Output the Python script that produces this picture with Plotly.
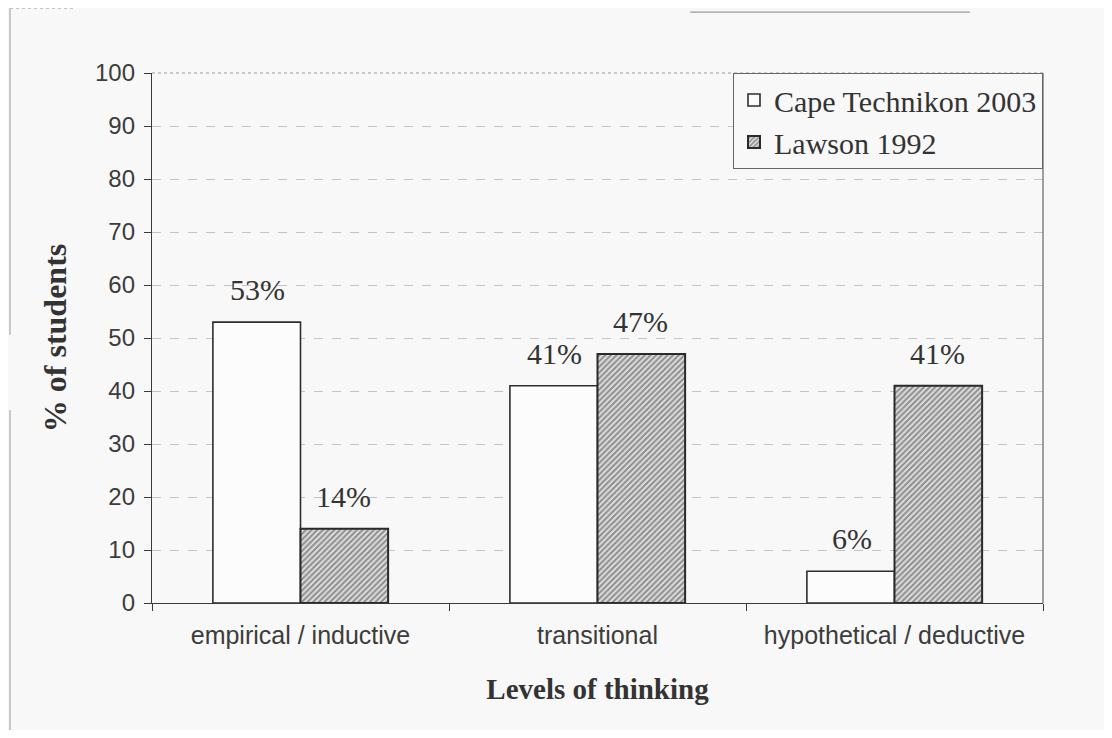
import plotly.graph_objects as go

categories = ["empirical / inductive", "transitional", "hypothetical / deductive"]
cape_2003 = [53, 41, 6]
lawson_1992 = [14, 47, 41]
y_ticks = [0, 10, 20, 30, 40, 50, 60, 70, 80, 90, 100]

bg = "#f8f8f8"
serif = "Liberation Serif"
sans = "Liberation Sans"

fig = go.Figure()
fig.add_trace(go.Bar(
    x=categories, y=cape_2003, name="Cape Technikon 2003",
    marker=dict(color="#fcfcfc", line=dict(color="#2e2e2e", width=1.6)),
))
fig.add_trace(go.Bar(
    x=categories, y=lawson_1992, name="Lawson 1992",
    marker=dict(color="#d0d0d0", line=dict(color="#2a2a2a", width=2),
                pattern=dict(shape="/", fgcolor="#3c3c3c", bgcolor="#dedede",
                             size=4, solidity=0.5)),
))

for cat, v in zip(categories, cape_2003):
    fig.add_annotation(x=cat, y=v, xref="x", yref="y", text=f"{v}%", showarrow=False,
                       xshift=-43, yshift=14, yanchor="bottom",
                       font=dict(family=serif, size=30, color="#333333"))
for cat, v in zip(categories, lawson_1992):
    fig.add_annotation(x=cat, y=v, xref="x", yref="y", text=f"{v}%", showarrow=False,
                       xshift=43, yshift=14, yanchor="bottom",
                       font=dict(family=serif, size=30, color="#333333"))

# plot-area frame: dotted top, solid right
fig.add_shape(type="line", xref="paper", yref="paper", x0=0, x1=1, y0=1, y1=1,
              line=dict(color="#9a9a9a", width=1, dash="dot"))
fig.add_shape(type="line", xref="paper", yref="paper", x0=1, x1=1, y0=0, y1=1,
              line=dict(color="#666666", width=1.2))
# faint outer frame fragments of the scanned page
frame = dict(color="#a8a8a8", width=1.2)
fig.add_shape(type="line", xref="paper", yref="paper", x0=-0.1594, x1=-0.1594, y0=0.506, y1=1.122, line=frame)
fig.add_shape(type="line", xref="paper", yref="paper", x0=-0.1594, x1=-0.1594, y0=-0.255, y1=0.364, line=frame)
fig.add_shape(type="line", xref="paper", yref="paper", x0=-0.1594, x1=-0.0887, y0=1.122, y1=1.122,
              line=dict(color="#b8b8b8", width=1, dash="dot"))
fig.add_shape(type="line", xref="paper", yref="paper", x0=0.604, x1=0.918, y0=1.115, y1=1.115,
              line=dict(color="#999999", width=1.2))

fig.update_layout(
    width=1096, height=722,
    paper_bgcolor=bg, plot_bgcolor=bg,
    margin=dict(l=144, r=61, t=65, b=127),
    barmode="group", bargap=0.41, bargroupgap=0,
    showlegend=True,
    legend=dict(x=1, y=1, xanchor="right", yanchor="top",
                bgcolor=bg, bordercolor="#666666", borderwidth=1,
                font=dict(family=serif, size=30, color="#333333"),
                itemwidth=30, tracegroupgap=0),
    xaxis=dict(
        showline=True, linecolor="#3a3a3a", linewidth=1.4,
        ticks="outside", ticklen=7, tickcolor="#3a3a3a", tickson="boundaries",
        ticklabelstandoff=10,
        tickfont=dict(family=sans, size=25, color="#3c3c3c"),
        title=dict(text="<b>Levels of thinking</b>", standoff=30,
                   font=dict(family=serif, size=29, color="#333333")),
    ),
    yaxis=dict(
        range=[0, 100], tickvals=y_ticks,
        showline=True, linecolor="#3a3a3a", linewidth=1.4,
        ticks="outside", ticklen=7, tickcolor="#3a3a3a",
        ticklabelstandoff=4,
        showgrid=True, gridcolor="#c4c4c4", gridwidth=1, griddash="dash",
        zeroline=False,
        tickfont=dict(family=sans, size=24, color="#3c3c3c"),
        title=dict(text="<b>% of students</b>", standoff=18,
                   font=dict(family=serif, size=32, color="#333333")),
    ),
)

fig.write_html("out.html")
